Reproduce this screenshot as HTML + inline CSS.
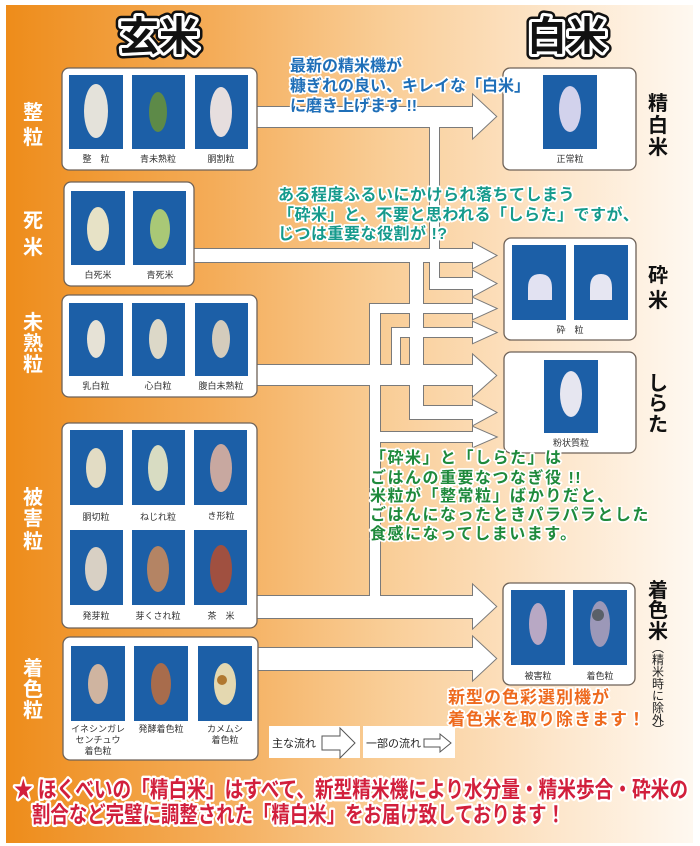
<!DOCTYPE html>
<html><head><meta charset="utf-8"><style>
html,body{margin:0;padding:0;background:#fff;}
svg{display:block;}
text{font-family:"Liberation Sans","Noto Sans CJK JP",sans-serif;}
.lab{font-size:9px;fill:#333;text-anchor:middle;}
.wl{font-size:20px;font-weight:bold;fill:#fff;text-anchor:middle;}
.bl{font-size:20px;font-weight:bold;fill:#111;text-anchor:middle;}
.ol{paint-order:stroke;stroke:#fff;stroke-width:3.5px;stroke-linejoin:round;font-weight:bold;}
</style></head><body>
<svg width="700" height="846" viewBox="0 0 700 846" xmlns="http://www.w3.org/2000/svg">
<defs>
<linearGradient id="bg" x1="0" x2="1" y1="0" y2="0">
<stop offset="0" stop-color="#ee8c1a"/><stop offset="0.3" stop-color="#f4ac58"/>
<stop offset="0.55" stop-color="#f9cd96"/><stop offset="0.8" stop-color="#fde6cb"/>
<stop offset="1" stop-color="#fef8f0"/></linearGradient>
<g id="net">
<polygon points="250,107 473,107 473,95 496,116.5 473,138 473,127 250,127"/>
<rect x="430" y="120" width="9" height="169"/>
<polygon points="188,249 473,249 473,243 496,255.5 473,268 473,262 188,262"/>
<rect x="410" y="255" width="13" height="164"/>
<polygon points="430,278 473,278 473,271 496,283.5 473,296 473,289 430,289"/>
<polygon points="370,304 473,304 473,298 496,308.5 473,319 473,313 370,313"/>
<rect x="370" y="304" width="10" height="314"/>
<polygon points="392,328 473,328 473,322 496,332.5 473,343 473,337 392,337"/>
<rect x="392" y="328" width="8" height="42"/>
<polygon points="250,365 473,365 473,355 496,375.5 473,396 473,385 250,385"/>
<polygon points="410,406 473,406 473,400 496,412.5 473,425 473,419 410,419"/>
<polygon points="370,432 473,432 473,427 496,437 473,447 473,442 370,442"/>
<polygon points="250,596 473,596 473,585 496,606.5 473,628 473,618 250,618"/>
<polygon points="250,648 473,648 473,637 496,658.5 473,680 473,670 250,670"/>
</g>
</defs>
<rect x="6" y="5" width="687" height="838" fill="url(#bg)"/>

<g font-size="40" font-weight="bold" text-anchor="middle">
<text x="159" y="50" fill="#111" stroke="#111" stroke-width="11" stroke-linejoin="round">玄米</text>
<text x="159" y="50" fill="#111" stroke="#fff" stroke-width="6" stroke-linejoin="round">玄米</text>
<text x="159" y="50" fill="#111">玄米</text>
<text x="567" y="50" fill="#111" stroke="#111" stroke-width="11" stroke-linejoin="round">白米</text>
<text x="567" y="50" fill="#111" stroke="#fff" stroke-width="6" stroke-linejoin="round">白米</text>
<text x="567" y="50" fill="#111">白米</text>
</g>

<use href="#net" fill="#fff" stroke="#7a7a7a" stroke-width="2"/>
<use href="#net" fill="#fff"/>

<text class="wl" x="33" y="119">整</text><text class="wl" x="33" y="144">粒</text>
<text class="wl" x="33" y="227">死</text><text class="wl" x="33" y="254">米</text>
<text class="wl" x="33" y="329">未</text><text class="wl" x="33" y="350">熟</text><text class="wl" x="33" y="371">粒</text>
<text class="wl" x="33" y="504">被</text><text class="wl" x="33" y="525">害</text><text class="wl" x="33" y="548">粒</text>
<text class="wl" x="33" y="675">着</text><text class="wl" x="33" y="696">色</text><text class="wl" x="33" y="717">粒</text>

<text class="bl" x="658" y="110">精</text><text class="bl" x="658" y="132">白</text><text class="bl" x="658" y="154">米</text>
<text class="bl" x="658" y="282">砕</text><text class="bl" x="658" y="307">米</text>
<text class="bl" x="658" y="390">し</text><text class="bl" x="658" y="410">ら</text><text class="bl" x="658" y="431">た</text>
<text class="bl" x="658" y="597">着</text><text class="bl" x="658" y="617">色</text><text class="bl" x="658" y="638">米</text>
<g font-size="12" fill="#222" text-anchor="middle">
<text x="658" y="652">︵</text><text x="658" y="664">精</text><text x="658" y="676">米</text><text x="658" y="688">時</text>
<text x="658" y="700">に</text><text x="658" y="712">除</text><text x="658" y="724">外</text><text x="658" y="734">︶</text>
</g>

<g fill="#fff" stroke="#6e6258" stroke-width="1.3">
<rect x="62" y="68" width="195" height="102" rx="7"/>
<rect x="64" y="182" width="130" height="104" rx="7"/>
<rect x="62" y="295" width="195" height="102" rx="7"/>
<rect x="62" y="423" width="195" height="205" rx="7"/>
<rect x="63" y="637" width="195" height="123" rx="7"/>
<rect x="503" y="68" width="133" height="102" rx="7"/>
<rect x="504" y="238" width="132" height="102" rx="7"/>
<rect x="504" y="352" width="132" height="101" rx="7"/>
<rect x="503" y="583" width="132" height="102" rx="7"/>
</g>

<g fill="#1c5fa7">
<rect x="69" y="75" width="54" height="74"/><rect x="132" y="75" width="53" height="74"/><rect x="195" y="75" width="53" height="74"/>
<rect x="71" y="191" width="54" height="74"/><rect x="133" y="191" width="53" height="74"/>
<rect x="69" y="303" width="54" height="73"/><rect x="132" y="303" width="53" height="73"/><rect x="195" y="303" width="53" height="73"/>
<rect x="70" y="430" width="53" height="75"/><rect x="132" y="430" width="53" height="75"/><rect x="194" y="430" width="53" height="75"/>
<rect x="70" y="530" width="53" height="75"/><rect x="132" y="530" width="53" height="75"/><rect x="194" y="530" width="53" height="75"/>
<rect x="71" y="646" width="54" height="75"/><rect x="134" y="646" width="54" height="75"/><rect x="198" y="646" width="54" height="75"/>
<rect x="543" y="75" width="54" height="74"/>
<rect x="512" y="245" width="54" height="75"/><rect x="574" y="245" width="54" height="75"/>
<rect x="544" y="360" width="54" height="73"/>
<rect x="511" y="590" width="54" height="75"/><rect x="573" y="590" width="54" height="75"/>
</g>
<g>
<ellipse cx="96" cy="111" rx="12" ry="27" fill="#e4e2da"/>
<ellipse cx="158" cy="112" rx="9" ry="20" fill="#5d8a48"/>
<ellipse cx="221" cy="112" rx="11" ry="25" fill="#e6dede"/>
<ellipse cx="98" cy="229" rx="11" ry="22" fill="#e7e2c6"/>
<ellipse cx="160" cy="229" rx="10" ry="20" fill="#a9c876"/>
<ellipse cx="96" cy="339" rx="9" ry="19" fill="#e6e2d6"/>
<ellipse cx="158" cy="339" rx="9" ry="20" fill="#dcd8c8"/>
<ellipse cx="221" cy="339" rx="9" ry="19" fill="#d4ccbc"/>
<ellipse cx="96" cy="468" rx="10" ry="20" fill="#e2dcc4"/>
<ellipse cx="158" cy="468" rx="10" ry="23" fill="#d8dcc2"/>
<ellipse cx="221" cy="468" rx="11" ry="24" fill="#c8a8a0"/>
<ellipse cx="96" cy="569" rx="11" ry="22" fill="#d8d0c4"/>
<ellipse cx="158" cy="569" rx="11" ry="23" fill="#b48464"/>
<ellipse cx="221" cy="569" rx="11" ry="24" fill="#a05040"/>
<ellipse cx="98" cy="684" rx="10" ry="20" fill="#cfb4a0"/>
<ellipse cx="161" cy="684" rx="10" ry="21" fill="#a86c4c"/>
<ellipse cx="225" cy="684" rx="11" ry="21" fill="#e4d8b0"/><circle cx="222" cy="680" r="5" fill="#b07830"/>
<ellipse cx="570" cy="109" rx="11" ry="23" fill="#d2d2ec"/>
<path d="M528,300 v-12 q0,-14 12,-14 q12,0 12,14 v12 z" fill="#e2e2f2"/>
<path d="M590,300 v-12 q0,-14 11,-14 q11,0 11,14 v12 z" fill="#e6e6f2"/>
<ellipse cx="571" cy="394" rx="11" ry="23" fill="#e6e6f0"/>
<ellipse cx="538" cy="624" rx="9" ry="21" fill="#b8a8c4"/>
<ellipse cx="600" cy="624" rx="10" ry="23" fill="#9c98b8"/><circle cx="598" cy="615" r="6" fill="#5a6068"/>
</g>
<text class="lab" x="96" y="162">整　粒</text><text class="lab" x="158" y="162">青未熟粒</text><text class="lab" x="221" y="162">胴割粒</text>
<text class="lab" x="98" y="278">白死米</text><text class="lab" x="160" y="278">青死米</text>
<text class="lab" x="96" y="389">乳白粒</text><text class="lab" x="158" y="389">心白粒</text><text class="lab" x="221" y="389">腹白未熟粒</text>
<text class="lab" x="96" y="520">胴切粒</text><text class="lab" x="158" y="520">ねじれ粒</text><text class="lab" x="221" y="519">き形粒</text>
<text class="lab" x="96" y="619">発芽粒</text><text class="lab" x="158" y="619">芽くされ粒</text><text class="lab" x="221" y="619">茶　米</text>
<text class="lab" x="98" y="732">イネシンガレ</text><text class="lab" x="98" y="743">センチュウ</text><text class="lab" x="98" y="754">着色粒</text>
<text class="lab" x="161" y="732">発酵着色粒</text>
<text class="lab" x="225" y="732">カメムシ</text><text class="lab" x="225" y="743">着色粒</text>
<text class="lab" x="570" y="162">正常粒</text>
<text class="lab" x="570" y="333">砕　粒</text>
<text class="lab" x="571" y="446">粉状質粒</text>
<text class="lab" x="538" y="679">被害粒</text><text class="lab" x="600" y="679">着色粒</text>

<rect x="269" y="726" width="91" height="32" fill="#fff"/>
<rect x="363" y="726" width="92" height="32" fill="#fff"/>
<text x="272" y="747" font-size="11" fill="#222">主な流れ</text>
<polygon points="322,736 340,736 340,728 355,743 340,758 340,750 322,750" fill="#fff" stroke="#555" stroke-width="1"/>
<text x="366" y="747" font-size="11" fill="#222">一部の流れ</text>
<polygon points="424,739 440,739 440,734 451,743 440,752 440,747 424,747" fill="#fff" stroke="#555" stroke-width="1"/>

<g font-size="16" fill="#1f6fb8" class="ol">
<text x="290" y="71">最新の精米機が</text>
<text x="290" y="91">糠ぎれの良い、キレイな「白米」</text>
<text x="290" y="111">に磨き上げます !!</text>
</g>
<g font-size="16" fill="#159a8c" class="ol" letter-spacing="0.5">
<text x="278" y="200">ある程度ふるいにかけられ落ちてしまう</text>
<text x="278" y="220">「砕米」と、不要と思われる「しらた」ですが、</text>
<text x="278" y="239">じつは重要な役割が !?</text>
</g>
<g font-size="16" fill="#1f8a3c" class="ol" letter-spacing="1.5">
<text x="370" y="463">「砕米」と「しらた」は</text>
<text x="370" y="483">ごはんの重要なつなぎ役 !!</text>
<text x="370" y="501">米粒が「整常粒」ばかりだと、</text>
<text x="370" y="520">ごはんになったときパラパラとした</text>
<text x="370" y="539">食感になってしまいます。</text>
</g>
<g font-size="17" fill="#ee6a1e" class="ol" letter-spacing="1">
<text x="448" y="703">新型の色彩選別機が</text>
<text x="448" y="725">着色米を取り除きます！</text>
</g>
<g font-size="19" fill="#d21f3c" font-weight="bold" style="paint-order:stroke;stroke:#fff;stroke-width:4px;stroke-linejoin:round">
<text x="14" y="798" transform="translate(0,-160) scale(1,1.2)" textLength="674" lengthAdjust="spacingAndGlyphs">★ ほくべいの「精白米」はすべて、新型精米機により水分量・精米歩合・砕米の</text>
<text x="32" y="823" transform="translate(0,-165) scale(1,1.2)" textLength="533" lengthAdjust="spacingAndGlyphs">割合など完璧に調整された「精白米」をお届け致しております！</text>
</g>
</svg>
</body></html>
